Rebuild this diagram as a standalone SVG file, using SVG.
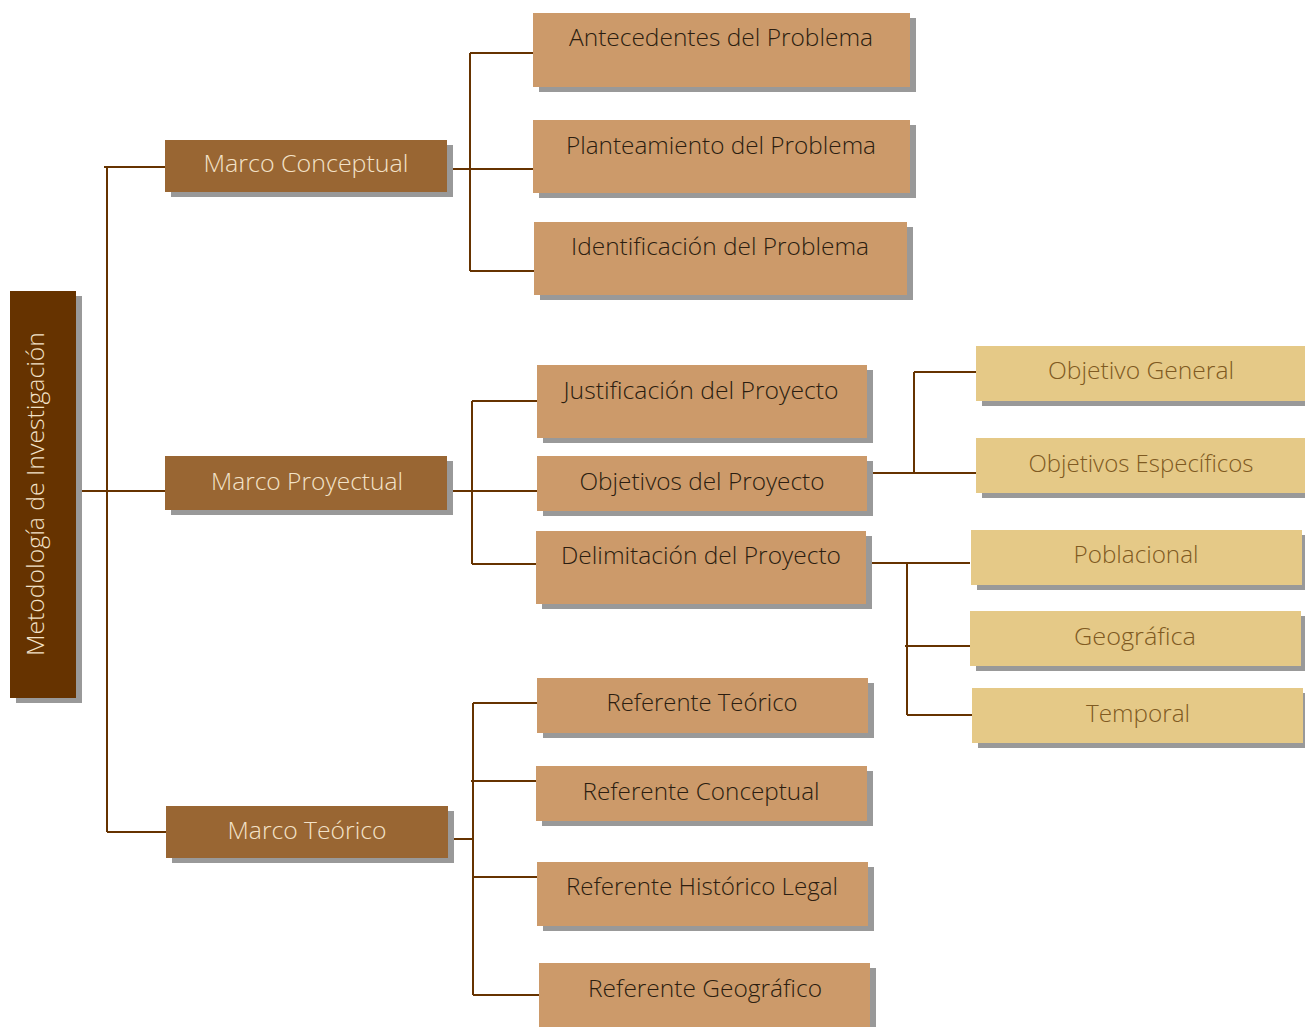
<svg xmlns="http://www.w3.org/2000/svg" width="1305" height="1027" viewBox="0 0 1305 1027">
<style>
.sh{fill:#999999}
.r0{fill:#663300}
.r1{fill:#996633}
.r2{fill:#cc9a6a}
.r3{fill:#e5c987}
text{font-family:"Open Sans","Liberation Sans",sans-serif;font-weight:300;text-anchor:middle;font-size:24px}
.t0,.t1{fill:#f3e2c8}
.t2{fill:#2b1d10}
.t3{fill:#7f5a22}
.c{stroke:#663300;stroke-width:2;fill:none}
</style>
<rect width="1305" height="1027" fill="#ffffff"/>
<g id="connectors">
<path class="c" d="M76 491H170M107 167V832M104 167H165M107 832H170"/>
<path class="c" d="M445 169H533M470 53V271M470 53H533M470 271H534"/>
<path class="c" d="M448 491H537M472 401V564M472 401H537M472 564H536"/>
<path class="c" d="M870 473H978M914 372V473M914 372H977"/>
<path class="c" d="M866 563H970M907 563V715M905 646H970M907 715H973"/>
<path class="c" d="M450 839H473M473 703V995M473 703H540M471 781H536M473 877H540M473 995H539"/>
</g>
<g id="root">
<rect class="sh" x="16" y="296" width="66" height="407"/>
<rect class="r0" x="10" y="291" width="66" height="407"/>
<text class="t0" transform="translate(44 494) rotate(-90)" textLength="324" lengthAdjust="spacingAndGlyphs">Metodología de Investigación</text>
</g>
<g id="marco-conceptual">
<rect class="sh" x="171" y="145" width="282" height="52"/>
<rect class="r1" x="165" y="140" width="282" height="52"/>
<text class="t1" x="306" y="172" textLength="205" lengthAdjust="spacingAndGlyphs">Marco Conceptual</text>
</g>
<g id="marco-proyectual">
<rect class="sh" x="171" y="461" width="282" height="54"/>
<rect class="r1" x="165" y="456" width="282" height="54"/>
<text class="t1" x="307" y="490" textLength="192" lengthAdjust="spacingAndGlyphs">Marco Proyectual</text>
</g>
<g id="marco-teorico">
<rect class="sh" x="172" y="811" width="282" height="52"/>
<rect class="r1" x="166" y="806" width="282" height="52"/>
<text class="t1" x="307" y="839" textLength="159" lengthAdjust="spacingAndGlyphs">Marco Teórico</text>
</g>
<g id="antecedentes">
<rect class="sh" x="539" y="18" width="377" height="74"/>
<rect class="r2" x="533" y="13" width="377" height="74"/>
<text class="t2" x="721" y="46" textLength="304" lengthAdjust="spacingAndGlyphs">Antecedentes del Problema</text>
</g>
<g id="planteamiento">
<rect class="sh" x="539" y="125" width="377" height="73"/>
<rect class="r2" x="533" y="120" width="377" height="73"/>
<text class="t2" x="721" y="154" textLength="310" lengthAdjust="spacingAndGlyphs">Planteamiento del Problema</text>
</g>
<g id="identificacion">
<rect class="sh" x="540" y="227" width="373" height="73"/>
<rect class="r2" x="534" y="222" width="373" height="73"/>
<text class="t2" x="720" y="255" textLength="298" lengthAdjust="spacingAndGlyphs">Identificación del Problema</text>
</g>
<g id="justificacion">
<rect class="sh" x="543" y="370" width="330" height="73"/>
<rect class="r2" x="537" y="365" width="330" height="73"/>
<text class="t2" x="701" y="399" textLength="275" lengthAdjust="spacingAndGlyphs">Justificación del Proyecto</text>
</g>
<g id="objetivos-proyecto">
<rect class="sh" x="543" y="461" width="330" height="55"/>
<rect class="r2" x="537" y="456" width="330" height="55"/>
<text class="t2" x="702" y="490" textLength="245" lengthAdjust="spacingAndGlyphs">Objetivos del Proyecto</text>
</g>
<g id="delimitacion">
<rect class="sh" x="542" y="536" width="330" height="73"/>
<rect class="r2" x="536" y="531" width="330" height="73"/>
<text class="t2" x="701" y="564" textLength="280" lengthAdjust="spacingAndGlyphs">Delimitación del Proyecto</text>
</g>
<g id="ref-teorico">
<rect class="sh" x="543" y="683" width="331" height="55"/>
<rect class="r2" x="537" y="678" width="331" height="55"/>
<text class="t2" x="702" y="711" textLength="191" lengthAdjust="spacingAndGlyphs">Referente Teórico</text>
</g>
<g id="ref-conceptual">
<rect class="sh" x="542" y="771" width="331" height="55"/>
<rect class="r2" x="536" y="766" width="331" height="55"/>
<text class="t2" x="701" y="800" textLength="237" lengthAdjust="spacingAndGlyphs">Referente Conceptual</text>
</g>
<g id="ref-historico">
<rect class="sh" x="543" y="867" width="331" height="64"/>
<rect class="r2" x="537" y="862" width="331" height="64"/>
<text class="t2" x="702" y="895" textLength="272" lengthAdjust="spacingAndGlyphs">Referente Histórico Legal</text>
</g>
<g id="ref-geografico">
<rect class="sh" x="545" y="968" width="331" height="64"/>
<rect class="r2" x="539" y="963" width="331" height="64"/>
<text class="t2" x="705" y="997" textLength="234" lengthAdjust="spacingAndGlyphs">Referente Geográfico</text>
</g>
<g id="objetivo-general">
<rect class="sh" x="982" y="351" width="329" height="55"/>
<rect class="r3" x="976" y="346" width="329" height="55"/>
<text class="t3" x="1141" y="379" textLength="186" lengthAdjust="spacingAndGlyphs">Objetivo General</text>
</g>
<g id="objetivos-especificos">
<rect class="sh" x="982" y="443" width="329" height="55"/>
<rect class="r3" x="976" y="438" width="329" height="55"/>
<text class="t3" x="1141" y="472" textLength="225" lengthAdjust="spacingAndGlyphs">Objetivos Específicos</text>
</g>
<g id="poblacional">
<rect class="sh" x="977" y="535" width="331" height="55"/>
<rect class="r3" x="971" y="530" width="331" height="55"/>
<text class="t3" x="1136" y="563" textLength="125" lengthAdjust="spacingAndGlyphs">Poblacional</text>
</g>
<g id="geografica">
<rect class="sh" x="976" y="616" width="331" height="55"/>
<rect class="r3" x="970" y="611" width="331" height="55"/>
<text class="t3" x="1135" y="645" textLength="122" lengthAdjust="spacingAndGlyphs">Geográfica</text>
</g>
<g id="temporal">
<rect class="sh" x="978" y="693" width="331" height="55"/>
<rect class="r3" x="972" y="688" width="331" height="55"/>
<text class="t3" x="1138" y="722" textLength="104" lengthAdjust="spacingAndGlyphs">Temporal</text>
</g>
</svg>
